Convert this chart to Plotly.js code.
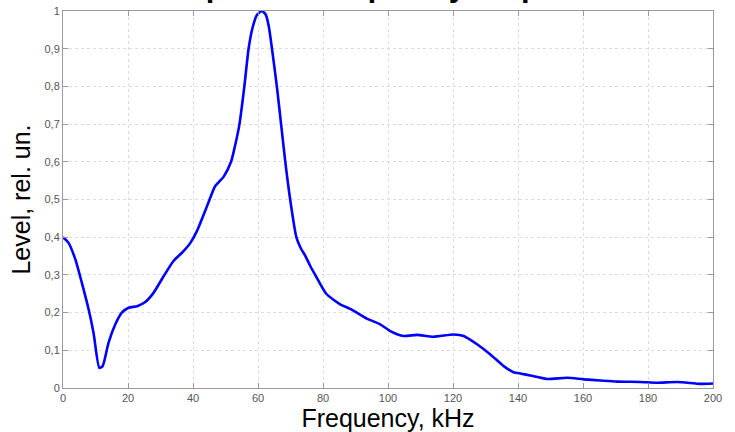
<!DOCTYPE html>
<html>
<head>
<meta charset="utf-8">
<script src="https://cdn.plot.ly/plotly-3.0.1.min.js"></script>
<style>html,body{margin:0;padding:0;background:#fff;}#chart{width:735px;height:432px;}</style>
</head>
<body>
<div id="chart"></div>
<script>
var titleText = "Amplitude-frequency response";
var xTitle = "Frequency, kHz";
var yTitle = "Level, rel. un.";

var frequency = [0, 1.7, 3.8, 5.8, 7.9, 9.4, 11.2, 12.2, 14, 16.1, 18.1, 20.2, 22.8, 25.3, 27.9, 31, 34, 37.1, 39.2, 41.2, 43.3, 45.1, 46.8, 49.4, 51.7, 53, 54.3, 55.8, 57.1, 58.3, 59.7, 61.2, 62.4, 63.3, 64.3, 65.8, 67.1, 68.4, 69.9, 71.8, 73.2, 74.6, 76, 77.6, 81, 85.3, 88.4, 93.5, 97.6, 100.7, 104.8, 108.9, 114, 120.2, 123.3, 127.4, 131.5, 135.6, 138.6, 141, 143.8, 148.9, 155.1, 160.2, 165.3, 170.5, 177.6, 182.8, 189, 196.2, 200];
var level = [0.40, 0.385, 0.341, 0.279, 0.208, 0.146, 0.053, 0.058, 0.12, 0.169, 0.2, 0.213, 0.217, 0.228, 0.253, 0.297, 0.337, 0.363, 0.385, 0.416, 0.46, 0.50, 0.535, 0.56, 0.6, 0.645, 0.7, 0.8, 0.9, 0.955, 0.99, 1.0, 0.99, 0.96, 0.9, 0.8, 0.7, 0.6, 0.5, 0.4, 0.37, 0.35, 0.325, 0.30, 0.25, 0.222, 0.21, 0.184, 0.169, 0.151, 0.138, 0.141, 0.136, 0.142, 0.138, 0.116, 0.089, 0.058, 0.042, 0.038, 0.033, 0.024, 0.027, 0.023, 0.020, 0.017, 0.016, 0.014, 0.016, 0.011, 0.012];

var xTicks = [0, 20, 40, 60, 80, 100, 120, 140, 160, 180, 200];
var yTicks = [0, 0.1, 0.2, 0.3, 0.4, 0.5, 0.6, 0.7, 0.8, 0.9, 1];
var yTickText = ["0", "0,1", "0,2", "0,3", "0,4", "0,5", "0,6", "0,7", "0,8", "0,9", "1"];

var trace = {
  x: frequency,
  y: level,
  type: 'scatter',
  mode: 'lines',
  line: {color: '#0000ff', width: 2.6, shape: 'spline', smoothing: 0.6},
  hoverinfo: 'skip'
};

var axisCommon = {
  showgrid: true,
  gridcolor: '#dcdcdc',
  griddash: 'dot',
  gridwidth: 1,
  showline: true,
  linecolor: '#9a9a9a',
  linewidth: 1,
  mirror: 'allticks',
  ticks: 'inside',
  ticklen: 5,
  tickcolor: '#9a9a9a',
  zeroline: false,
  tickfont: {family: 'Liberation Sans, Arial, sans-serif', size: 11, color: '#555555'}
};

var layout = {
  width: 735,
  height: 432,
  margin: {l: 63, r: 22, t: 11, b: 44, pad: 0},
  paper_bgcolor: '#ffffff',
  plot_bgcolor: '#ffffff',
  showlegend: false,
  title: {
    text: '<b>' + titleText + '</b>',
    font: {family: 'Liberation Sans, Arial, sans-serif', size: 31, color: '#000000'},
    xref: 'paper', x: 0.494, xanchor: 'center',
    yref: 'container', y: 1, yanchor: 'bottom',
    pad: {b: 4}
  },
  xaxis: Object.assign({}, axisCommon, {
    range: [0, 200],
    tickvals: xTicks,
    ticktext: xTicks.map(String),
    title: {text: xTitle, font: {family: 'Liberation Sans, Arial, sans-serif', size: 25, color: '#000000'}, standoff: 7}
  }),
  yaxis: Object.assign({}, axisCommon, {
    range: [0, 1],
    tickvals: yTicks,
    ticktext: yTickText,
    title: {text: yTitle, font: {family: 'Liberation Sans, Arial, sans-serif', size: 25, color: '#000000'}, standoff: 6}
  })
};

Plotly.newPlot('chart', [trace], layout, {displayModeBar: false, staticPlot: true});
</script>
</body>
</html>
